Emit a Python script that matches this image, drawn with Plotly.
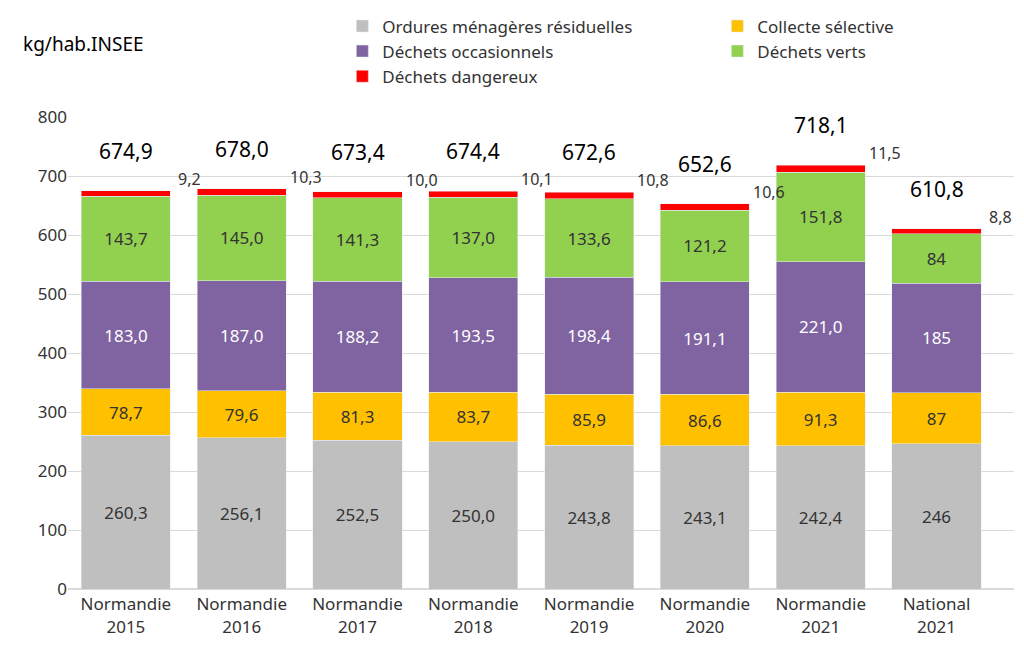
import plotly.graph_objects as go

cats = ["Normandie<br>2015","Normandie<br>2016","Normandie<br>2017","Normandie<br>2018","Normandie<br>2019","Normandie<br>2020","Normandie<br>2021","National<br>2021"]
omr = [260.3,256.1,252.5,250.0,243.8,243.1,242.4,246]
cs = [78.7,79.6,81.3,83.7,85.9,86.6,91.3,87]
occ = [183.0,187.0,188.2,193.5,198.4,191.1,221.0,185]
verts = [143.7,145.0,141.3,137.0,133.6,121.2,151.8,84]
dang = [9.2,10.3,10.0,10.1,10.8,10.6,11.5,8.8]
totals = [674.9,678.0,673.4,674.4,672.6,652.6,718.1,610.8]
omr_t = ["260,3","256,1","252,5","250,0","243,8","243,1","242,4","246"]
cs_t = ["78,7","79,6","81,3","83,7","85,9","86,6","91,3","87"]
occ_t = ["183,0","187,0","188,2","193,5","198,4","191,1","221,0","185"]
verts_t = ["143,7","145,0","141,3","137,0","133,6","121,2","151,8","84"]
dang_t = ["9,2","10,3","10,0","10,1","10,8","10,6","11,5","8,8"]
tot_t = ["674,9","678,0","673,4","674,4","672,6","652,6","718,1","610,8"]

F = "Noto Sans"
fig = go.Figure()
def add(name, vals, txt, color, tcolor):
    fig.add_bar(x=cats, y=vals, name=name, marker_color=color, text=txt,
                textposition="inside" if txt else "none", insidetextanchor="middle",
                textfont=dict(color=tcolor, size=17, family=F), width=0.77)
add("Ordures ménagères résiduelles", omr, omr_t, "#BFBFBF", "#333333")
add("Collecte sélective", cs, cs_t, "#FFC000", "#333333")
add("Déchets occasionnels", occ, occ_t, "#8064A2", "white")
add("Déchets verts", verts, verts_t, "#92D050", "#333333")
add("Déchets dangereux", dang, None, "#FF0000", "#333333")

for c, t, tt, d in zip(cats, totals, tot_t, dang_t):
    fig.add_annotation(x=c, y=t, text=tt, showarrow=False, yshift=40,
                       font=dict(size=21, color="black", family=F))
    fig.add_annotation(x=c, y=t, text=d, showarrow=False, xshift=64, yshift=12,
                       font=dict(size=16, color="#333333", family=F))
fig.add_annotation(xref="paper", yref="paper", x=-0.05, y=1.155, text="kg/hab.INSEE",
                   showarrow=False, xanchor="left", yanchor="middle",
                   font=dict(size=19, color="black", family=F))

fig.update_layout(
    barmode="stack", width=1024, height=665, plot_bgcolor="white", paper_bgcolor="white",
    margin=dict(l=60, r=18, t=109, b=84, autoexpand=False),
    font=dict(family=F, size=16, color="#333333"),
    legend=dict(orientation="h", x=0.29, y=1.23, xanchor="left", yanchor="top",
                traceorder="normal", entrywidth=330, entrywidthmode="pixels",
                font=dict(size=17), tracegroupgap=0),
    yaxis=dict(range=[0, 800], dtick=100, gridcolor="#D9D9D9", tickfont=dict(size=17),
               zeroline=True, zerolinecolor="#D9D9D9"),
    xaxis=dict(tickfont=dict(size=17), showline=True, linecolor="#D9D9D9"),
)
fig.write_html("out.html")
